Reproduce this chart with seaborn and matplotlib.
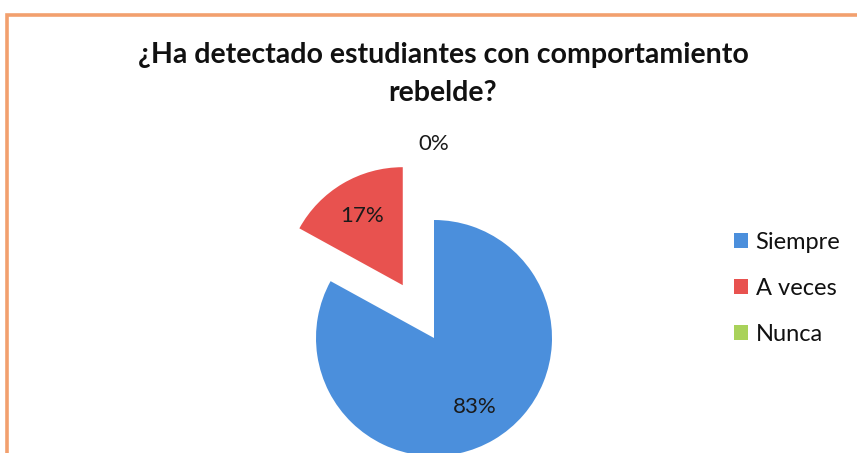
import numpy as np
import matplotlib
matplotlib.use("Agg")
import matplotlib.pyplot as plt
import seaborn as sns
from matplotlib.patches import Rectangle


# Data

categories = ["Siempre", "A veces", "Nunca"]

values = [83, 17, 0]

colors = ["#4b8fdc", "#e8524f", "#a9d25a"]

title = "¿Ha detectado estudiantes con comportamiento\nrebelde?"


sns.set_theme(style="white")

plt.rcParams["font.family"] = ["Lato", "DejaVu Sans"]


W, H = 857, 453
R = 118.0          # pie radius in pixels
CX, CY = 434, 338  # pie centre (pixels from top-left)

fig = plt.figure(figsize=(W / 100, H / 100), dpi=100)
fig.patch.set_facecolor("white")

ax = fig.add_axes([0, 0, 1, 1])


wedges, texts, autotexts = ax.pie(
    values,
    colors=colors,
    startangle=90,
    counterclock=False,
    explode=[0, 0.52, 0.96],
    autopct="%.0f%%",
    pctdistance=0.68,
    radius=1,
    wedgeprops=dict(linewidth=0),
    textprops=dict(fontsize=16, color="#1a1a1a")
)

ax.set_xlim(-CX / R, (W - CX) / R)
ax.set_ylim(-(H - CY) / R, CY / R)
ax.set_aspect("auto")
ax.axis("off")


# Legend

ax.legend(
    wedges,
    categories,
    loc="upper left",
    bbox_to_anchor=(713 / W, 1 - 211 / H),
    bbox_transform=fig.transFigure,
    frameon=False,
    fontsize=17,
    labelcolor="#111111",
    handlelength=0.6,
    handleheight=0.6,
    handletextpad=0.3,
    labelspacing=1.05
)


# Title

fig.text(
    443 / W,
    1 - 74 / H,
    title,
    ha="center",
    va="center",
    fontsize=20.5,
    fontweight="bold",
    color="#111111",
    linespacing=1.6
)


# Orange frame of the chart area

fig.patches.append(
    Rectangle(
        (7 / W, -0.05),
        1.05,
        1 - 15 / H + 0.05,
        transform=fig.transFigure,
        fill=False,
        edgecolor="#f2a06e",
        linewidth=2.6
    )
)


plt.savefig("out.png", dpi=100)

plt.close()
